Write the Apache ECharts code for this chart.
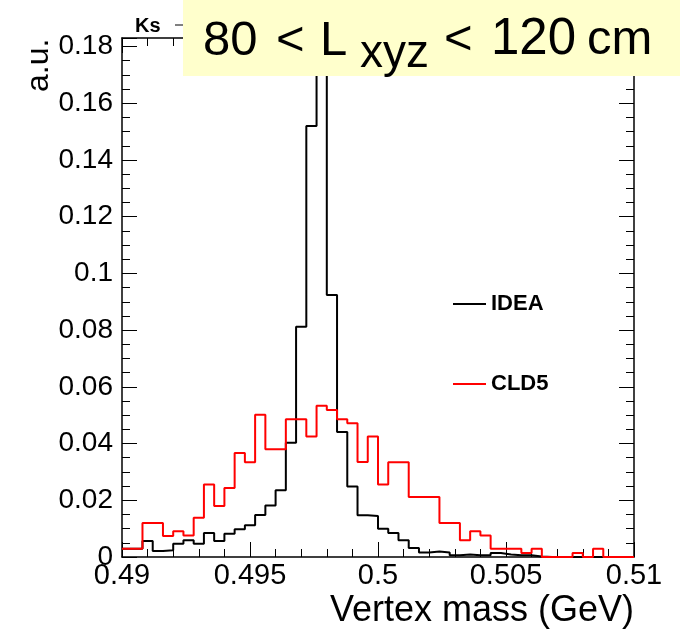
<!DOCTYPE html>
<html>
<head>
<meta charset="utf-8">
<script src="https://cdn.jsdelivr.net/npm/echarts@6/dist/echarts.min.js"></script>
<style>html,body{margin:0;padding:0;background:#fff;}#c{width:691px;height:633px;}</style>
</head>
<body>
<div id="c"></div>
<script>
// Histogram binning: 50 bins from 0.49 to 0.51 GeV
const xMin = 0.49;
const xMax = 0.51;
const binWidth = 0.0004;
const xTicks = [0.49, 0.495, 0.5, 0.505, 0.51];
const yTicks = [0, 0.02, 0.04, 0.06, 0.08, 0.1, 0.12, 0.14, 0.16, 0.18];

const ideaValues = [
  0.0029, 0.0029, 0.0056, 0.0021, 0.0024, 0.0047, 0.0059, 0.0047, 0.0085, 0.0056,
  0.0082, 0.0098, 0.0112, 0.0148, 0.0182, 0.0235, 0.0403, 0.0812, 0.1520, 0.3450,
  0.0924, 0.0441, 0.0249, 0.0147, 0.0145, 0.0100, 0.0085, 0.0059, 0.0032, 0.0016,
  0.0019, 0.0016, 0.0006, 0.0009, 0.0006, 0.0006, 0.0014, 0.0009, 0.0006, 0.0006,
  0.0002, 0, 0, 0, 0, 0, 0, 0, 0, 0
];
const cld5Values = [
  0.0029, 0.0029, 0.0120, 0.0120, 0.0074, 0.0091, 0.0076, 0.0138, 0.0256, 0.0180,
  0.0243, 0.0367, 0.0334, 0.0502, 0.0380, 0.0380, 0.0486, 0.0486, 0.0425, 0.0533,
  0.0518, 0.0486, 0.0472, 0.0335, 0.0425, 0.0256, 0.0334, 0.0334, 0.0212, 0.0212,
  0.0212, 0.0120, 0.0120, 0.0059, 0.0091, 0.0076, 0.0029, 0.0029, 0.0029, 0.0014,
  0.0029, 0, 0, 0, 0.0014, 0, 0.0029, 0, 0, 0
];

function toSteps(vals) {
  const pts = vals.map((v, i) => [+(xMin + i * binWidth).toFixed(4), v]);
  pts.push([xMax, vals[vals.length - 1]]);
  return pts;
}

const FONT = '"Liberation Sans", Arial, Helvetica, sans-serif';
const chart = echarts.init(document.getElementById('c'), null, {renderer: 'canvas'});

const axisCommonX = {
  type: 'value', min: xMin, max: xMax, interval: 0.005,
  axisLine: {show: true, onZero: false, lineStyle: {color: '#000', width: 1.5}},
  axisTick: {show: true, inside: true, length: 15, lineStyle: {color: '#000', width: 1}},
  minorTick: {show: true, splitNumber: 5, length: 8, lineStyle: {color: '#000', width: 1}},
  splitLine: {show: false}
};
const axisCommonY = {
  type: 'value', min: 0, max: 0.183, interval: 0.02,
  axisLine: {show: true, onZero: false, lineStyle: {color: '#000', width: 1.5}},
  axisTick: {show: true, inside: true, length: 15, lineStyle: {color: '#000', width: 1}},
  minorTick: {show: true, splitNumber: 4, length: 8, lineStyle: {color: '#000', width: 1}},
  splitLine: {show: false}
};

function titlePiece(text, x, y, size) {
  return {type: 'text', z: 21, x: x, y: y,
    style: {text: text, font: size + 'px ' + FONT, fill: '#000', textAlign: 'left', verticalAlign: 'bottom'}};
}

chart.setOption({
  animation: false,
  backgroundColor: '#fff',
  grid: {left: 122, right: 57, top: 38, bottom: 76, containLabel: false},
  xAxis: [
    Object.assign({}, axisCommonX, {
      position: 'bottom',
      axisLabel: {show: true, color: '#000', fontFamily: FONT, fontSize: 29, margin: 4,
        showMaxLabel: true, showMinLabel: true,
        formatter: v => (xTicks.some(t => Math.abs(t - v) < 1e-9) ? String(+v.toFixed(3)) : '')}
    }),
    Object.assign({}, axisCommonX, {position: 'top', axisLabel: {show: false}})
  ],
  yAxis: [
    Object.assign({}, axisCommonY, {
      position: 'left',
      axisLabel: {show: true, color: '#000', fontFamily: FONT, fontSize: 28, margin: 9,
        showMaxLabel: false,
        formatter: v => (yTicks.some(t => Math.abs(t - v) < 1e-9) ? String(+v.toFixed(2)) : '')}
    }),
    Object.assign({}, axisCommonY, {position: 'right', axisLabel: {show: false}})
  ],
  legend: {
    show: true, orient: 'vertical', left: 448, top: 288,
    itemWidth: 33, itemHeight: 2, itemGap: 58, icon: 'rect',
    textStyle: {fontFamily: FONT, fontSize: 22, fontWeight: 'bold', color: '#000', lineHeight: 22},
    data: ['IDEA', 'CLD5']
  },
  series: [
    {name: 'IDEA', type: 'line', step: 'end', symbol: 'none', clip: true,
     data: toSteps(ideaValues), lineStyle: {color: '#000', width: 2}, itemStyle: {color: '#000'}},
    {name: 'CLD5', type: 'line', step: 'end', symbol: 'none', clip: true,
     data: toSteps(cld5Values), lineStyle: {color: '#ff0000', width: 2}, itemStyle: {color: '#ff0000'}}
  ],
  graphic: [
    {type: 'text', left: 135, top: 16, z: 10,
     style: {text: 'Ks', font: 'bold 20px ' + FONT, fill: '#000'}},
    {type: 'line', z: 10, shape: {x1: 175, y1: 25, x2: 184, y2: 25}, style: {stroke: '#000', lineWidth: 1}},
    {type: 'rect', z: 20, shape: {x: 183, y: 0, width: 497, height: 76}, style: {fill: '#ffffcc'}},
    titlePiece('80', 203, 66, 49),
    titlePiece('<', 276, 66, 49),
    titlePiece('L', 320, 66, 49),
    titlePiece('xyz', 360, 77, 46),
    titlePiece('<', 444, 65, 49),
    titlePiece('120', 491, 65, 51),
    titlePiece('cm', 587, 65, 49),
    {type: 'text', z: 10, x: 634, y: 629,
     style: {text: 'Vertex mass (GeV)', font: '36px ' + FONT, fill: '#000', textAlign: 'right', verticalAlign: 'bottom'}},
    {type: 'text', z: 10, x: 55, y: 92, rotation: Math.PI / 2,
     style: {text: 'a.u.', font: '32px ' + FONT, fill: '#000', textAlign: 'left', verticalAlign: 'bottom'}}
  ]
});
</script>
</body>
</html>
